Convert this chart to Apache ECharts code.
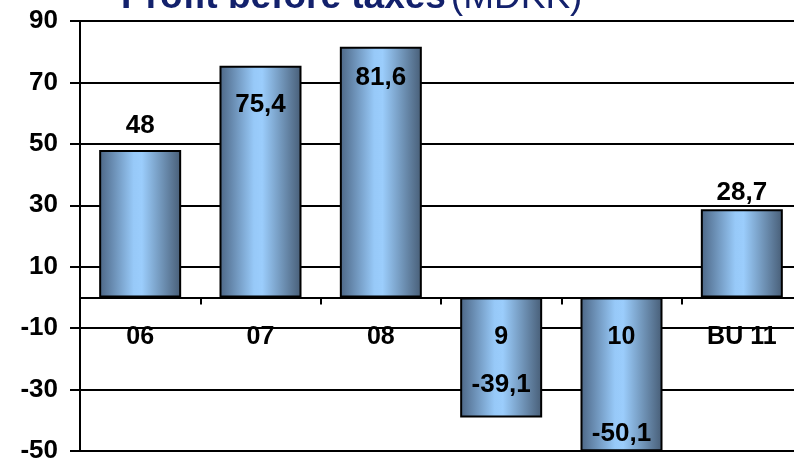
<!DOCTYPE html>
<html>
<head>
<meta charset="utf-8">
<script src="https://cdn.jsdelivr.net/npm/echarts@6/dist/echarts.min.js"></script>
<style>
  html, body { margin: 0; padding: 0; background: #fff; }
  #chart { width: 794px; height: 462px; }
</style>
</head>
<body>
<div id="chart"></div>
<script>
// Profit before taxes, MDKK
const categories = ['06', '07', '08', '9', '10', 'BU 11'];
const profit = [48, 75.4, 81.6, -39.1, -50.1, 28.7];
const yTicks = { min: -50, max: 90, step: 20 };

// where each value label sits relative to its bar
const labelPlacement = [
  { position: 'top', distance: 11 },
  { position: 'insideTop', distance: 26 },
  { position: 'insideTop', distance: 18 },
  { position: 'insideBottom', distance: 20 },
  { position: 'insideBottom', distance: 4 },
  { position: 'top', distance: 3 }
];

const fmt = v => String(v).replace('.', ',');

const barFill = {
  type: 'linear', x: 0, y: 0, x2: 1, y2: 0,
  colorStops: [
    { offset: 0, color: '#4c6685' },
    { offset: 0.42, color: '#97c9f8' },
    { offset: 0.52, color: '#9bcdfc' },
    { offset: 1, color: '#475d76' }
  ]
};

// category labels sit just under the zero line, inside the plot
const plotBottomGap = 11;
const categoryLabelLift = -126;

const chart = echarts.init(document.getElementById('chart'), null, { renderer: 'canvas' });
chart.setOption({
  animation: false,
  backgroundColor: '#ffffff',
  title: {
    left: 116,
    top: -26,
    text: '{b|Profit before taxes} {n|(MDKK)}',
    textStyle: {
      rich: {
        b: { fontFamily: 'Liberation Sans, Arial', fontWeight: 'bold', fontSize: 37, color: '#13216c' },
        n: { fontFamily: 'Liberation Sans, Arial', fontWeight: 'normal', fontSize: 37, color: '#13216c' }
      }
    }
  },
  grid: { left: 80, right: -8, top: 21, bottom: plotBottomGap, containLabel: false, outerBoundsMode: 'none' },
  xAxis: {
    type: 'category',
    data: categories,
    z: 5,
    axisLine: { onZero: true, lineStyle: { color: '#000', width: 2 } },
    axisTick: { show: true, length: 7, lineStyle: { color: '#000', width: 2 } },
    axisLabel: {
      margin: categoryLabelLift,
      fontFamily: 'Liberation Sans, Arial',
      fontWeight: 'bold',
      fontSize: 25,
      color: '#000'
    }
  },
  yAxis: {
    type: 'value',
    min: yTicks.min,
    max: yTicks.max,
    interval: yTicks.step,
    axisLine: { show: true, onZero: false, lineStyle: { color: '#000', width: 2 } },
    axisTick: { show: true, length: 10, lineStyle: { color: '#000', width: 2 } },
    splitLine: { show: true, lineStyle: { color: '#000', width: 2 } },
    axisLabel: {
      margin: 22,
      fontFamily: 'Liberation Sans, Arial',
      fontWeight: 'bold',
      fontSize: 26,
      color: '#000'
    }
  },
  series: [{
    type: 'bar',
    barWidth: 82,
    data: profit.map((v, i) => ({
      value: v,
      label: Object.assign({}, labelPlacement[i])
    })),
    itemStyle: { color: barFill, borderColor: '#000', borderWidth: 2 },
    label: {
      show: true,
      formatter: p => fmt(p.value),
      fontFamily: 'Liberation Sans, Arial',
      fontWeight: 'bold',
      fontSize: 26,
      color: '#000'
    }
  }]
});
</script>
</body>
</html>
